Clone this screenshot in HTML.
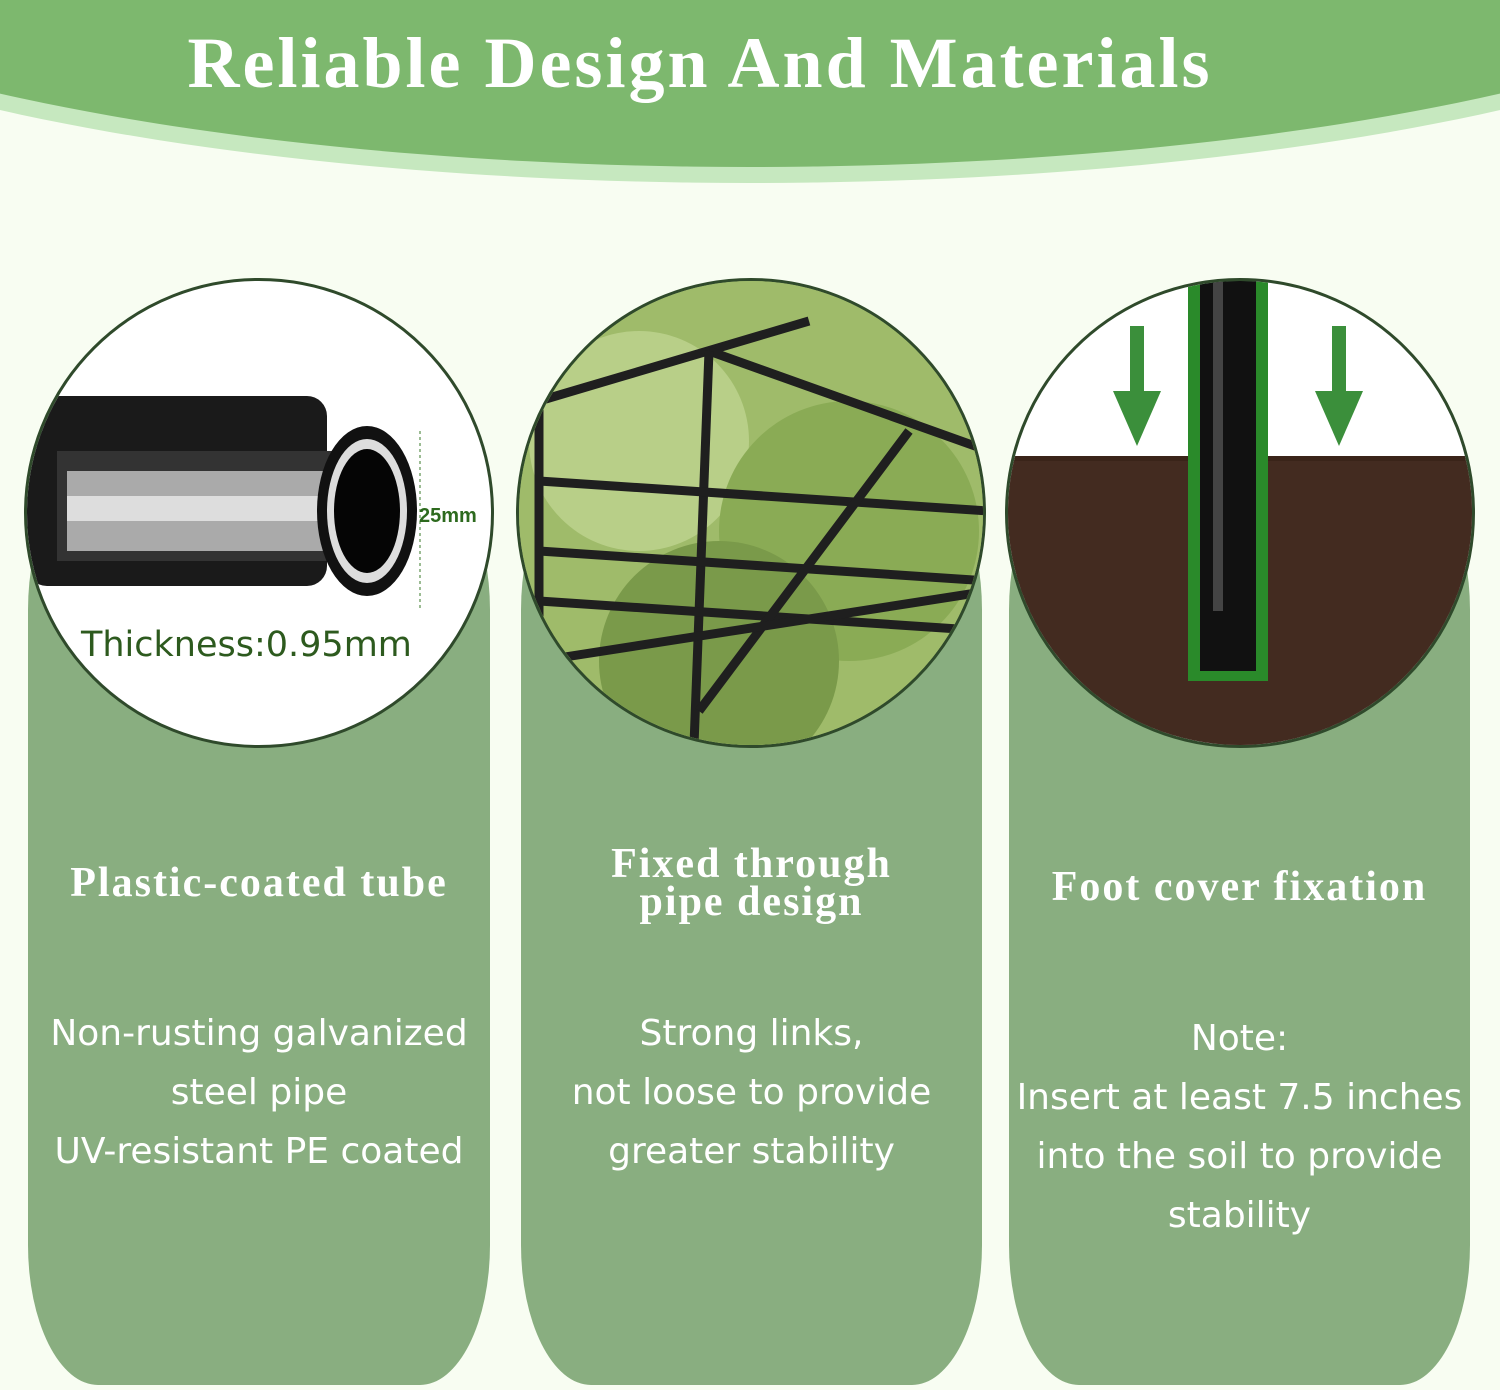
<!DOCTYPE html>
<html><head><style>
body{margin:0;width:1500px;height:1390px;background:#f8fdf2;position:relative;overflow:hidden;font-family:"Liberation Sans",sans-serif}
.hdr2{position:absolute;left:-400px;top:-420px;width:2300px;height:603px;border-radius:50%;background:#c6e8bf}
.hdr{position:absolute;left:-400px;top:-440px;width:2300px;height:607px;border-radius:50%;background:#7db86e}
h1{position:absolute;left:175px;width:1050px;top:22px;margin:0;text-align:center;font-family:"Liberation Serif",serif;font-weight:bold;font-size:72px;color:#fff;letter-spacing:3px;white-space:nowrap}
.card{position:absolute;top:470px;height:915px;background:#89ae80;border-radius:70px 70px 70px 70px/140px 140px 140px 140px}
.circ{position:absolute;top:278px;width:464px;height:464px;border-radius:50%;border:3px solid #2f4a2b;overflow:hidden;background:#fff}
.t{position:absolute;color:#fff;text-align:center;font-family:"Liberation Serif",serif;font-weight:bold;font-size:42px;letter-spacing:2px;line-height:38px}
.d{position:absolute;color:#fff;text-align:center;font-family:"DejaVu Sans",sans-serif;font-size:36px;line-height:59px;white-space:nowrap}
</style></head><body>
<div class="hdr2"></div><div class="hdr"></div>
<h1>Reliable Design And Materials</h1>
<div class="card" style="left:28px;width:462px"></div>
<div class="card" style="left:521px;width:461px"></div>
<div class="card" style="left:1009px;width:461px"></div>

<div class="circ" style="left:24px">
<svg width="464" height="464">
<rect x="0" y="115" width="300" height="190" rx="20" fill="#1a1a1a"/>
<rect x="30" y="170" width="280" height="110" fill="#333"/>
<rect x="40" y="190" width="270" height="80" fill="#aaa"/>
<rect x="40" y="215" width="270" height="25" fill="#ddd"/>
<ellipse cx="340" cy="230" rx="50" ry="85" fill="#111"/>
<ellipse cx="340" cy="230" rx="40" ry="72" fill="#ddd"/>
<ellipse cx="340" cy="230" rx="33" ry="62" fill="#050505"/>
<line x1="393" y1="150" x2="393" y2="330" stroke="#3a7a2a" stroke-dasharray="3,3"/>
<text x="392" y="241" font-size="20" font-weight="bold" fill="#2d6a1e" font-family="Liberation Sans">25mm</text>
<text x="54" y="375" font-size="35" fill="#2d5a1e" font-family="DejaVu Sans">Thickness:0.95mm</text>
</svg></div>

<div class="circ" style="left:516px;background:#a8bf7a">
<svg width="464" height="464">
<rect width="464" height="464" fill="#9fbb6a"/>
<circle cx="120" cy="160" r="110" fill="#b8cf88"/><circle cx="330" cy="250" r="130" fill="#8aab55"/><circle cx="200" cy="380" r="120" fill="#7a9a4a"/>
<g stroke="#1f1f1f" stroke-width="9" fill="none">
<line x1="20" y1="120" x2="290" y2="40"/><line x1="190" y1="70" x2="470" y2="170"/>
<line x1="190" y1="70" x2="175" y2="464"/><line x1="20" y1="200" x2="470" y2="230"/>
<line x1="20" y1="270" x2="470" y2="300"/><line x1="20" y1="320" x2="470" y2="350"/>
<line x1="390" y1="150" x2="180" y2="430"/><line x1="20" y1="120" x2="20" y2="464"/>
<line x1="20" y1="380" x2="470" y2="310"/>
</g></svg></div>

<div class="circ" style="left:1005px">
<svg width="464" height="464">
<rect y="175" width="464" height="300" fill="#3a2419"/>
<rect y="180" width="464" height="300" fill="#4a3024" opacity=".6"/>
<rect x="180" y="0" width="80" height="400" fill="#2a8a2a"/>
<rect x="192" y="0" width="56" height="390" fill="#111"/>
<rect x="205" y="0" width="10" height="330" fill="#444"/>
<g fill="#3b8f3b"><rect x="122" y="45" width="14" height="75"/><polygon points="105,110 153,110 129,165"/>
<rect x="324" y="45" width="14" height="75"/><polygon points="307,110 355,110 331,165"/></g>
</svg></div>

<div class="t" style="left:28px;width:462px;top:864px">Plastic-coated tube</div>
<div class="t" style="left:521px;width:461px;top:845px">Fixed through<br>pipe design</div>
<div class="t" style="left:1009px;width:461px;top:868px">Foot cover fixation</div>
<div class="d" style="left:28px;width:462px;top:1004px">Non-rusting galvanized<br>steel pipe<br>UV-resistant PE coated</div>
<div class="d" style="left:521px;width:461px;top:1004px">Strong links,<br>not loose to provide<br>greater stability</div>
<div class="d" style="left:1009px;width:461px;top:1009px">Note:<br>Insert at least 7.5 inches<br>into the soil to provide<br>stability</div>
</body></html>
